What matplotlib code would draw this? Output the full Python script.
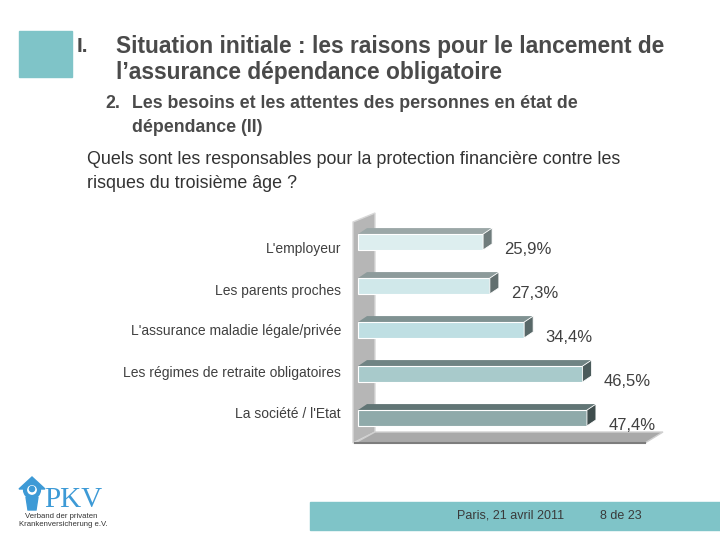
import matplotlib
matplotlib.use("Agg")
import matplotlib.pyplot as plt
from matplotlib.patches import Polygon, Rectangle, Circle

# data
categories = ["L'employeur", "Les parents proches", "L'assurance maladie légale/privée",
              "Les régimes de retraite obligatoires", "La société / l'Etat"]
values = [25.9, 27.3, 34.4, 46.5, 47.4]
value_labels = ["25,9%", "27,3%", "34,4%", "46,5%", "47,4%"]

front_colors = ["#ddeeef", "#d0e8ea", "#bfdfe3", "#a8cacb", "#8faaaa"]
top_colors = ["#9ba7a7", "#8d9b9b", "#809292", "#708484", "#617575"]
side_colors = ["#6f7c7c", "#626f6f", "#586868", "#4b5b5b", "#3f4d4d"]

TEAL = "#7fc4c8"
TXT = "#4a4a4a"
FONT = "Liberation Sans"

W, H = 720, 540
fig = plt.figure(figsize=(7.2, 5.4), dpi=100)
fig.patch.set_facecolor("white")

# background axes in pixel coordinates for slide decoration
bg = fig.add_axes([0, 0, 1, 1])
bg.set_xlim(0, W)
bg.set_ylim(H, 0)
bg.axis("off")

bg.add_patch(Rectangle((19, 31), 53, 46, color=TEAL))
bg.text(77, 47, "I.", fontsize=15, fontweight="bold", color=TXT, va="center", family=FONT)
bg.text(116, 47, "Situation initiale : les raisons pour le lancement de", fontsize=16.4,
        fontweight="bold", color=TXT, va="center", family=FONT)
bg.text(116, 73, "l\u2019assurance dépendance obligatoire", fontsize=16.4,
        fontweight="bold", color=TXT, va="center", family=FONT)
bg.text(105, 103, "2.", fontsize=12.8, fontweight="bold", color=TXT, va="center", family=FONT)
bg.text(132, 103, "Les besoins et les attentes des personnes en état de", fontsize=12.8,
        fontweight="bold", color=TXT, va="center", family=FONT)
bg.text(132, 127, "dépendance (II)", fontsize=12.8, fontweight="bold", color=TXT,
        va="center", family=FONT)
bg.text(87, 160, "Quels sont les responsables pour la protection financière contre les",
        fontsize=12.9, color="#333333", va="center", family=FONT)
bg.text(87, 184, "risques du troisième âge ?", fontsize=12.9, color="#333333",
        va="center", family=FONT)

# 3d wall and floor
bg.add_patch(Polygon([(353, 443), (353, 222), (375, 213), (375, 432)],
                     closed=True, facecolor="#b6b6b6", edgecolor="#d8d8d8", lw=1))
bg.add_patch(Polygon([(355, 443), (645, 443), (663, 432), (375, 432)],
                     closed=True, facecolor="#a9a9a9", edgecolor="#d0d0d0", lw=1))
bg.plot([355, 645], [443, 443], color="#7d7d7d", lw=1.5)

# footer
bg.add_patch(Rectangle((310, 502), 410, 28, color=TEAL))
bg.text(457, 516, "Paris, 21 avril 2011", fontsize=9, color="#3a3a3a", va="center", family=FONT)
bg.text(600, 516, "8 de 23", fontsize=9, color="#3a3a3a", va="center", family=FONT)

# logo
BLUE = "#3d9ad6"
bg.add_patch(Polygon([(19, 489), (32, 477), (45, 489)], closed=True, color=BLUE))
bg.add_patch(Circle((32, 490), 7, facecolor="white", edgecolor=BLUE, lw=3))
bg.add_patch(Circle((32, 489), 2.6, color=BLUE))
bg.add_patch(Polygon([(26, 497), (38, 497), (36, 510), (28, 510)], closed=True, color=BLUE))
bg.text(44, 507, "PKV", fontsize=21, color=BLUE, va="baseline", family="Liberation Serif")
bg.text(25, 517, "Verband der privaten", fontsize=5.6, color="#333333", va="center", family=FONT)
bg.text(19, 525, "Krankenversicherung e.V.", fontsize=5.6, color="#333333", va="center", family=FONT)

# chart axes, 0% at 358 px, 4.83 px per %
px_per_pct = 4.83
left, right, top, bottom = 341, 700, 205, 450
pos = [left / W, 1 - bottom / H, (right - left) / W, (bottom - top) / H]
ax = fig.add_axes(pos)
ax.patch.set_alpha(0)
ax.set_xlim((left - 358) / px_per_pct, (right - 358) / px_per_pct)
row = 44.0
ax.set_ylim((bottom - 242) / row, (top - 242) / row)
ax.axis("off")

h = 0.36
dx, dy = 9 / px_per_pct, 6 / row
for i, v in enumerate(values):
    ax.barh(i, v, height=h, color=front_colors[i], edgecolor="white", lw=0.8, zorder=3)
    yt, yb = i - h / 2, i + h / 2
    ax.add_patch(Polygon([(0, yt), (v, yt), (v + dx, yt - dy), (dx, yt - dy)],
                         closed=True, facecolor=top_colors[i], edgecolor="none", zorder=2))
    ax.add_patch(Polygon([(v, yt), (v + dx, yt - dy), (v + dx, yb - dy), (v, yb)],
                         closed=True, facecolor=side_colors[i], edgecolor="white", lw=0.6, zorder=4))
    ax.text(v + 4.4, i + 0.16, value_labels[i], fontsize=12, color="#404040",
            va="center", ha="left", family=FONT)

# category labels on their own scale (41 px spacing, first at 248 px)
lab = fig.add_axes(pos)
lab.patch.set_alpha(0)
lab_row = 41.0
lab.set_ylim((bottom - 248) / lab_row, (top - 248) / lab_row)
lab.set_yticks(range(len(categories)))
lab.set_yticklabels(categories, fontsize=10, color="#404040", family=FONT)
lab.tick_params(axis="y", length=0, pad=0)
lab.set_xticks([])
for s in lab.spines.values():
    s.set_visible(False)

fig.savefig("out.png", dpi=100)
